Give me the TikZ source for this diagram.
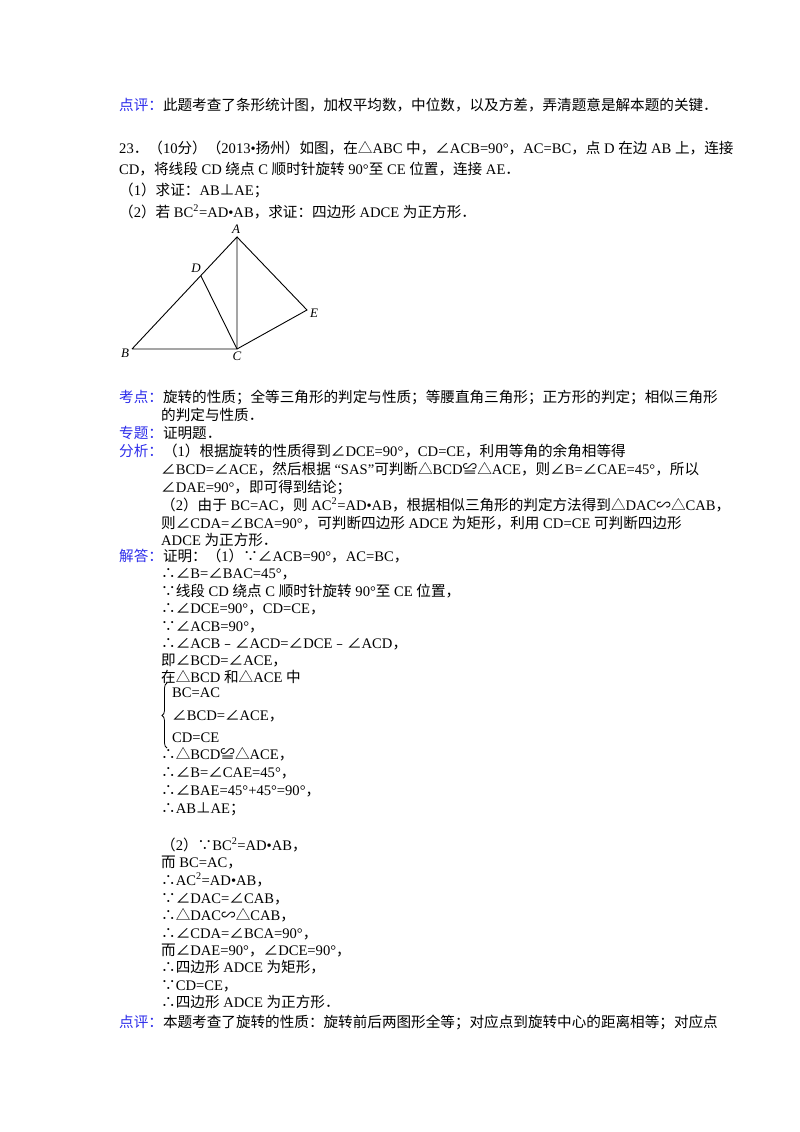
\documentclass[tikz,border=0pt]{standalone}
\usepackage{fontspec}
\setmainfont{Liberation Serif}
\newfontfamily\cjk{Noto Sans CJK SC}
\usetikzlibrary{decorations.pathreplacing}
\XeTeXinterchartokenstate=1
\newXeTeXintercharclass\cjkclass
\count255="4E00
\loop\XeTeXcharclass\count255=\cjkclass\advance\count255 1 \ifnum\count255<"A000 \repeat
\count255="3000
\loop\XeTeXcharclass\count255=\cjkclass\advance\count255 1 \ifnum\count255<"3040 \repeat
\count255="FF00
\loop\XeTeXcharclass\count255=\cjkclass\advance\count255 1 \ifnum\count255<"FFF0 \repeat
\count255="FE30
\loop\XeTeXcharclass\count255=\cjkclass\advance\count255 1 \ifnum\count255<"FE70 \repeat
\XeTeXcharclass"2235=\cjkclass \XeTeXcharclass"2234=\cjkclass
\XeTeXcharclass"2220=\cjkclass \XeTeXcharclass"25B3=\cjkclass
\XeTeXcharclass"224C=\cjkclass \XeTeXcharclass"223D=\cjkclass
\XeTeXcharclass"22A5=\cjkclass
\XeTeXinterchartoks 0 \cjkclass={\begingroup\cjk}
\XeTeXinterchartoks 4095 \cjkclass={\begingroup\cjk}
\XeTeXinterchartoks \cjkclass 0={\endgroup}
\XeTeXinterchartoks \cjkclass 4095={\endgroup}
\definecolor{hdr}{RGB}{45,45,235}
\newcommand\hd[1]{\textcolor{hdr}{#1}}
\newcommand\tl[4]{\node[txt] (#1) at (#2,#3+5) {#4};}
\begin{document}
\begin{tikzpicture}[x=1pt,y=-1pt,
  txt/.style={anchor=base west,inner sep=0pt,font=\fontsize{14.6}{16}\selectfont},
  lab/.style={font=\fontsize{13}{14}\selectfont\itshape,inner sep=1pt},
  seg/.style={line width=0.9pt}]
\useasboundingbox[fill=white] (0,0) rectangle (800,1132);
\tl{a1}{119}{105}{\hd{点评：}此题考查了条形统计图，加权平均数，中位数，以及方差，弄清题意是解本题的关键．}
\tl{a2}{119}{148}{23．（10分）（2013•扬州）如图，在△ABC 中，∠ACB=90°，AC=BC，点 D 在边 AB 上，连接}
\tl{a3}{119}{169}{CD，将线段 CD 绕点 C 顺时针旋转 90°至 CE 位置，连接 AE．}
\tl{a4}{119}{190}{（1）求证：AB⊥AE；}
\tl{a5}{119}{212}{（2）若 BC\textsuperscript{2}=AD•AB，求证：四边形 ADCE 为正方形．}
% figure
\coordinate (A) at (237,237);
\coordinate (D) at (201,276);
\coordinate (B) at (132,349);
\coordinate (C) at (237,349);
\coordinate (E) at (307,310);
\draw[seg] (B) -- (A) -- (C) -- (B);
\draw[seg] (C) -- (D);
\draw[seg] (A) -- (E) -- (C);
\node[lab] (lA) at (236,229) {A};
\node[lab] (lD) at (196,268) {D};
\node[lab] (lB) at (125,353) {B};
\node[lab] (lC) at (237,356) {C};
\node[lab] (lE) at (314,313) {E};
% analysis
\tl{b1}{119}{397}{\hd{考点：}旋转的性质；全等三角形的判定与性质；等腰直角三角形；正方形的判定；相似三角形}
\tl{b2}{161}{415}{的判定与性质．}
\tl{b3}{119}{433}{\hd{专题：}证明题．}
\tl{b4}{119}{451}{\hd{分析：}（1）根据旋转的性质得到∠DCE=90°，CD=CE，利用等角的余角相等得}
\tl{b5}{161}{469}{∠BCD=∠ACE，然后根据 “SAS”可判断△BCD≌△ACE，则∠B=∠CAE=45°，所以}
\tl{b6}{161}{487}{∠DAE=90°，即可得到结论；}
\tl{b7}{161}{505}{（2）由于 BC=AC，则 AC\textsuperscript{2}=AD•AB，根据相似三角形的判定方法得到△DAC∽△CAB，}
\tl{b8}{161}{523}{则∠CDA=∠BCA=90°，可判断四边形 ADCE 为矩形，利用 CD=CE 可判断四边形}
\tl{b9}{161}{540}{ADCE 为正方形．}
% answer
\tl{c1}{119}{556}{\hd{解答：}证明：（1）∵∠ACB=90°，AC=BC，}
\tl{c2}{161}{573}{∴∠B=∠BAC=45°，}
\tl{c3}{161}{591}{∵线段 CD 绕点 C 顺时针旋转 90°至 CE 位置，}
\tl{c4}{161}{608}{∴∠DCE=90°，CD=CE，}
\tl{c5}{161}{626}{∵∠ACB=90°，}
\tl{c6}{161}{643}{∴∠ACB﹣∠ACD=∠DCE﹣∠ACD，}
\tl{c7}{161}{660}{即∠BCD=∠ACE，}
\tl{c8}{161}{677}{在△BCD 和△ACE 中}
\draw[decorate,decoration={brace,amplitude=5pt},line width=0.8pt] (167,748) -- (167,683);
\tl{c9}{172}{692}{BC=AC}
\tl{c10}{172}{715}{∠BCD=∠ACE，}
\tl{c11}{172}{737}{CD=CE}
\tl{c12}{161}{754}{∴△BCD≌△ACE，}
\tl{c13}{161}{772}{∴∠B=∠CAE=45°，}
\tl{c14}{161}{790}{∴∠BAE=45°+45°=90°，}
\tl{c15}{161}{808}{∴AB⊥AE；}
\tl{d1}{161}{845}{（2）∵BC\textsuperscript{2}=AD•AB，}
\tl{d2}{161}{862}{而 BC=AC，}
\tl{d3}{161}{880}{∴AC\textsuperscript{2}=AD•AB，}
\tl{d4}{161}{898}{∵∠DAC=∠CAB，}
\tl{d5}{161}{915}{∴△DAC∽△CAB，}
\tl{d6}{161}{933}{∴∠CDA=∠BCA=90°，}
\tl{d7}{161}{950}{而∠DAE=90°，∠DCE=90°，}
\tl{d8}{161}{967}{∴四边形 ADCE 为矩形，}
\tl{d9}{161}{985}{∵CD=CE，}
\tl{d10}{161}{1002}{∴四边形 ADCE 为正方形．}
\tl{d11}{119}{1022}{\hd{点评：}本题考查了旋转的性质：旋转前后两图形全等；对应点到旋转中心的距离相等；对应点}
\end{tikzpicture}
\end{document}
